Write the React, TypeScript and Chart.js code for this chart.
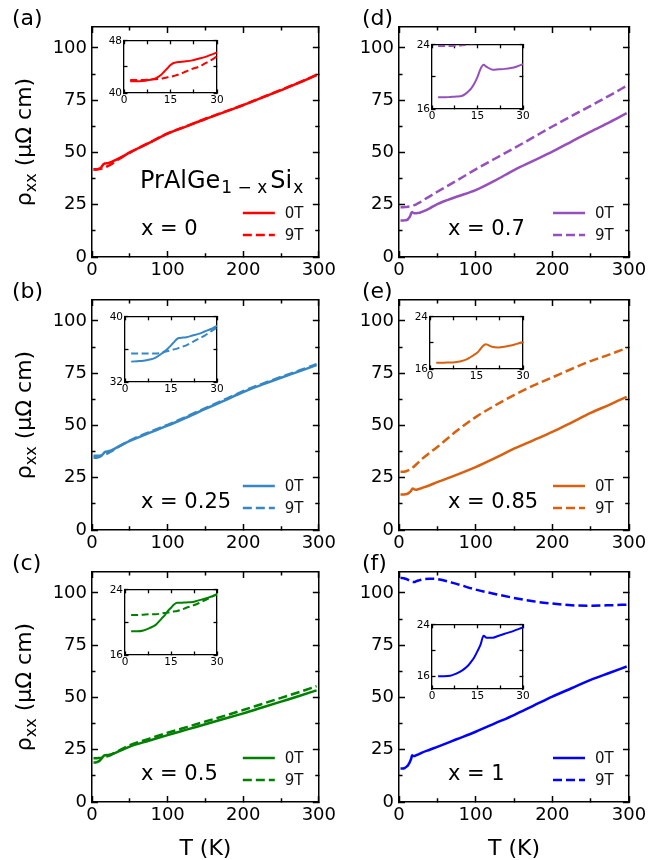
import React, { useEffect, useRef } from "react";
import { Chart, registerables } from "chart.js";
Chart.register(...registerables);

const FONT = "'DejaVu Sans', sans-serif";

// Temperature grid (K), shared by every series
const T_K = [2, 4, 6, 8, 10, 12, 13, 14, 15, 16, 17, 18, 20, 22, 24, 26, 28, 30, 40, 50, 75, 100, 125, 150, 175, 200, 225, 250, 275, 297];

// rho_xx (μΩ cm)
const RHO_A_0T = [41.8, 41.8, 41.85, 42.0, 42.2, 42.8, 43.3, 43.8, 44.3, 44.6, 44.7, 44.75, 44.85, 45.0, 45.25, 45.5, 45.85, 46.2, 48.0, 50.0, 54.5, 59.0, 62.5, 66.0, 69.3, 72.6, 76.2, 79.8, 83.5, 87.0];
const RHO_A_9T = [42.0, 42.0, 42.0, 42.05, 42.1, 42.2, 42.3, 42.4, 42.5, 42.6, 42.75, 42.9, 43.3, 43.7, 44.0, 44.5, 45.0, 45.6, 47.8, 49.9, 54.5, 59.1, 62.6, 66.1, 69.4, 72.7, 76.3, 79.9, 83.6, 87.1];

const RHO_B_0T = [34.5, 34.55, 34.6, 34.75, 35.0, 35.5, 35.8, 36.1, 36.5, 36.9, 37.3, 37.4, 37.5, 37.7, 37.9, 38.2, 38.5, 38.9, 40.8, 42.6, 46.3, 49.9, 53.8, 57.9, 61.9, 66.0, 69.5, 72.8, 76.0, 78.9];
const RHO_B_9T = [35.5, 35.5, 35.5, 35.5, 35.5, 35.6, 35.7, 35.8, 35.9, 36.0, 36.1, 36.25, 36.5, 36.9, 37.3, 37.7, 38.2, 38.7, 40.8, 42.8, 46.7, 50.3, 54.2, 58.3, 62.3, 66.4, 69.9, 73.2, 76.4, 79.3];

const RHO_C_0T = [18.9, 18.9, 19.0, 19.3, 19.7, 20.5, 20.9, 21.4, 21.8, 22.2, 22.4, 22.4, 22.45, 22.5, 22.7, 22.9, 23.15, 23.4, 25.0, 26.5, 29.3, 32.0, 34.6, 37.2, 39.8, 42.4, 45.2, 48.0, 50.8, 53.4];
const RHO_C_9T = [20.9, 20.9, 20.95, 21.0, 21.0, 21.1, 21.15, 21.2, 21.3, 21.35, 21.4, 21.5, 21.8, 22.05, 22.35, 22.7, 23.1, 23.5, 25.4, 27.2, 30.2, 33.1, 35.8, 38.5, 41.2, 44.0, 46.9, 49.8, 52.7, 55.4];

const RHO_D_0T = [17.45, 17.45, 17.5, 17.55, 17.65, 18.2, 18.6, 19.2, 20.0, 21.0, 21.5, 21.25, 20.9, 20.95, 21.0, 21.1, 21.3, 21.6, 23.3, 25.3, 28.8, 32.0, 36.5, 41.6, 46.0, 50.4, 55.2, 60.0, 64.5, 68.8];
const RHO_D_9T = [23.85, 23.85, 23.85, 23.9, 23.95, 24.05, 24.1, 24.15, 24.2, 24.3, 24.4, 24.5, 24.8, 25.1, 25.5, 25.9, 26.3, 26.8, 29.0, 31.2, 36.5, 41.9, 47.0, 52.0, 57.2, 62.4, 67.4, 72.3, 77.3, 81.9];

const RHO_E_0T = [16.95, 16.95, 17.0, 17.05, 17.2, 17.5, 17.8, 18.1, 18.4, 18.9, 19.5, 19.8, 19.4, 19.3, 19.4, 19.6, 19.85, 20.1, 21.4, 22.9, 26.4, 30.1, 34.4, 38.9, 42.9, 46.9, 51.4, 56.0, 60.0, 63.7];
const RHO_E_9T = [27.8, 27.8, 27.85, 28.0, 28.2, 28.5, 28.7, 28.9, 29.1, 29.3, 29.6, 29.9, 30.5, 31.2, 31.9, 32.6, 33.3, 34.0, 36.9, 39.7, 47.3, 54.0, 59.5, 64.5, 69.0, 73.0, 77.0, 80.8, 84.0, 87.0];

const RHO_F_0T = [16.0, 16.0, 16.05, 16.4, 16.9, 17.7, 18.3, 19.0, 19.9, 20.9, 22.3, 22.0, 22.0, 22.3, 22.6, 22.9, 23.25, 23.6, 25.0, 26.4, 30.0, 33.6, 37.6, 41.6, 46.0, 50.4, 54.4, 58.4, 61.8, 64.8];
const RHO_F_9T = [107.2, 107.1, 107.0, 106.8, 106.6, 106.2, 106.0, 105.8, 105.6, 105.4, 105.3, 105.2, 105.2, 105.5, 105.8, 106.0, 106.2, 106.4, 106.8, 106.6, 104.3, 101.6, 99.5, 97.6, 96.0, 94.9, 94.1, 93.9, 94.1, 94.4];

const PANEL_LABELS = ["(a)", "(b)", "(c)", "(d)", "(e)", "(f)"];
const COMPOSITIONS = ["x = 0", "x = 0.25", "x = 0.5", "x = 0.7", "x = 0.85", "x = 1"];
const FIELDS = ["0T", "9T"];
const INSET_Y_RANGES = [[40, 48], [32, 40], [16, 24], [16, 24], [16, 24], [14, 24]];

const PANELS = [
  { zero: RHO_A_0T, nine: RHO_A_9T, color: "#ff0000", col: 0, row: 0, inset: [124, 37, 217, 93], formula: true },
  { zero: RHO_B_0T, nine: RHO_B_9T, color: "#3787c4", col: 0, row: 1, inset: [125, 313, 217, 382] },
  { zero: RHO_C_0T, nine: RHO_C_9T, color: "#008000", col: 0, row: 2, inset: [125, 586, 217, 655] },
  { zero: RHO_D_0T, nine: RHO_D_9T, color: "#9650be", col: 1, row: 0, inset: [432, 41, 523, 109] },
  { zero: RHO_E_0T, nine: RHO_E_9T, color: "#d8600e", col: 1, row: 1, inset: [430, 313, 523, 369] },
  { zero: RHO_F_0T, nine: RHO_F_9T, color: "#0000ff", col: 1, row: 2, inset: [432, 621, 523, 689] },
];

const pts = (xs: number[], ys: number[]) => xs.map((x, i) => ({ x, y: ys[i] }));

// Inward tick marks on all four sides using Chart.js grid tick marks (negative tickLength).
// majorEvery: values that are major ticks; minor ticks are shortened with a dash pattern.
function axis(opts: {
  position: string; min: number; max: number; step: number; labelEvery: number | null;
  fontSize: number; labelGap: number; len: number; minorLen: number | null; lw: number; fit: (s: any) => void;
}) {
  const startsAtBorder = opts.position === "bottom" || opts.position === "right";
  const isMajor = (v: number) => opts.labelEvery == null || Math.abs(v / opts.labelEvery - Math.round(v / opts.labelEvery)) < 1e-6;
  return {
    type: "linear",
    position: opts.position,
    min: opts.min,
    max: opts.max,
    afterFit: opts.fit,
    border: { display: true, color: "#000", width: opts.lw },
    grid: {
      display: true,
      drawOnChartArea: false,
      drawTicks: true,
      tickLength: -opts.len,
      tickWidth: opts.lw,
      tickColor: "#000",
      tickBorderDash: (ctx: any) => {
        if (opts.minorLen == null) return [];
        const v = ctx.tick ? ctx.tick.value : 0;
        if (opts.labelEvery != null && !isMajor(v)) {
          const total = opts.len + opts.lw / 2;
          const on = opts.minorLen + opts.lw / 2;
          return startsAtBorder ? [on, 40] : [0, total - on, 40];
        }
        return [];
      },
    },
    ticks: {
      display: opts.position === "bottom" || opts.position === "left",
      stepSize: opts.step,
      color: "#000",
      font: { family: FONT, size: opts.fontSize },
      padding: opts.labelGap + opts.len,
      maxRotation: 0,
      autoSkip: false,
      includeBounds: false,
      callback: (v: number) => (isMajor(v) ? String(v) : ""),
    },
  };
}

function makeDecor(o: any) {
  return {
    id: "panelDecor",
    afterDraw(chart: any) {
      const { ctx, chartArea: a } = chart;
      ctx.save();
      ctx.fillStyle = "#000";
      ctx.textAlign = "left";
      ctx.textBaseline = "middle";
      ctx.font = `22px ${FONT}`;
      ctx.fillText(o.panel, o.panelX, 19);

      ctx.textBaseline = "alphabetic";
      ctx.font = `21px ${FONT}`;
      ctx.fillText(o.comp, a.left + 49, a.bottom - 22);

      chart.data.datasets.forEach((ds: any, i: number) => {
        const yy = a.bottom - 44 + 22 * i;
        ctx.strokeStyle = ds.borderColor;
        ctx.lineWidth = ds.borderWidth;
        ctx.setLineDash(ds.borderDash || []);
        ctx.beginPath();
        ctx.moveTo(a.right - 76, yy);
        ctx.lineTo(a.right - 44, yy);
        ctx.stroke();
        ctx.setLineDash([]);
        ctx.fillStyle = "#111";
        ctx.font = `15px ${FONT}`;
        ctx.textBaseline = "middle";
        ctx.fillText(ds.label, a.right - 34, yy + 1);
      });

      if (o.formula) {
        const parts: [string, number, number, number][] = [["PrAlGe", 24, 0, 1], ["1 − x", 17, 5, 3], ["Si", 24, 0, 1], ["x", 17, 5, 0]];
        let x = 140;
        ctx.fillStyle = "#000";
        ctx.textBaseline = "alphabetic";
        parts.forEach(([s, sz, dy, gap]) => {
          ctx.font = `${sz}px ${FONT}`;
          ctx.fillText(s, x, 188 + dy);
          x += ctx.measureText(s).width + gap;
        });
      }

      if (o.yTitle) {
        const parts: [string, number, number][] = [["ρ", 22, 0], ["xx", 16, 5], [" (μΩ cm)", 22, 0]];
        ctx.save();
        ctx.translate(31, (a.top + a.bottom) / 2);
        ctx.rotate(-Math.PI / 2);
        let total = 0;
        parts.forEach(([s, sz]) => { ctx.font = `${sz}px ${FONT}`; total += ctx.measureText(s).width; });
        let x = -total / 2;
        ctx.fillStyle = "#000";
        ctx.textBaseline = "alphabetic";
        parts.forEach(([s, sz, dy]) => {
          ctx.font = `${sz}px ${FONT}`;
          ctx.fillText(s, x, dy);
          x += ctx.measureText(s).width;
        });
        ctx.restore();
      }

      if (o.xTitle) {
        ctx.fillStyle = "#000";
        ctx.font = `22px ${FONT}`;
        ctx.textAlign = "center";
        ctx.textBaseline = "alphabetic";
        ctx.fillText(o.xTitle, (a.left + a.right) / 2, 310);
      }
      ctx.restore();
    },
  };
}

function datasets(p: any, width: number, inset: boolean) {
  const extra = inset ? { clip: 0 } : {};
  return [
    { label: FIELDS[0], data: pts(T_K, p.zero), borderColor: p.color, backgroundColor: p.color, borderWidth: width, pointRadius: 0, fill: false, cubicInterpolationMode: "monotone", ...extra },
    { label: FIELDS[1], data: pts(T_K, p.nine), borderColor: p.color, backgroundColor: p.color, borderWidth: width, borderDash: inset ? [7, 3.5] : [9, 4], pointRadius: 0, fill: false, cubicInterpolationMode: "monotone", ...extra },
  ];
}

function mainGeom(p: any) {
  const left = p.col === 0 ? 0 : 307;
  const width = p.col === 0 ? 345 : 356;
  const top = [0, 273, 545][p.row];
  const height = p.row === 2 ? 315 : 300;
  return { left, top, width, height };
}

function mainConfig(p: any, i: number): any {
  const g = mainGeom(p);
  const common = { fontSize: 18, len: 6, minorLen: 3.5, lw: 1.5 };
  return {
    type: "line",
    data: { datasets: datasets(p, 2.5, false) },
    options: {
      responsive: false,
      animation: false,
      devicePixelRatio: 1,
      events: [],
      layout: { padding: { left: 0, top: 27, right: g.width - 322, bottom: 0 } },
      plugins: { legend: { display: false }, tooltip: { enabled: false } },
      scales: {
        x: axis({ ...common, position: "bottom", min: 0, max: 300, step: 50, labelEvery: 100, labelGap: 3, fit: (s: any) => { s.height = g.height - 257; } }),
        x2: axis({ ...common, position: "top", min: 0, max: 300, step: 50, labelEvery: 100, labelGap: 3, fit: (s: any) => { s.height = 0; } }),
        y: axis({ ...common, position: "left", min: 0, max: 110, step: 12.5, labelEvery: 25, labelGap: 5, fit: (s: any) => { s.width = 92; } }),
        y2: axis({ ...common, position: "right", min: 0, max: 110, step: 12.5, labelEvery: 25, labelGap: 5, fit: (s: any) => { s.width = 0; } }),
      },
    },
    plugins: [
      makeDecor({
        panel: PANEL_LABELS[i],
        panelX: p.col === 0 ? 12 : 55,
        comp: COMPOSITIONS[i],
        formula: !!p.formula,
        yTitle: p.col === 0,
        xTitle: p.row === 2 ? "T (K)" : null,
      }),
    ],
  };
}

function insetGeom(p: any) {
  const [L, T, R, B] = p.inset;
  return { left: L - 24, top: T - 8, width: R - L + 36, height: B - T + 24 };
}

const insetBg = {
  id: "insetBg",
  beforeDraw(chart: any) {
    const { ctx, chartArea: a } = chart;
    ctx.save();
    ctx.fillStyle = "#ffffff";
    ctx.fillRect(a.left, a.top, a.right - a.left, a.bottom - a.top);
    ctx.restore();
  },
};

function insetConfig(p: any, i: number): any {
  const [ymin, ymax] = INSET_Y_RANGES[i];
  const common = { fontSize: 10.5, len: 3.5, minorLen: null, lw: 1.3 };
  return {
    type: "line",
    data: { datasets: datasets(p, 2, true) },
    options: {
      responsive: false,
      animation: false,
      devicePixelRatio: 1,
      events: [],
      layout: { padding: { left: 0, top: 8, right: 12, bottom: 0 } },
      plugins: { legend: { display: false }, tooltip: { enabled: false } },
      scales: {
        x: axis({ ...common, position: "bottom", min: 0, max: 30, step: 7.5, labelEvery: 15, labelGap: 1, fit: (s: any) => { s.height = 16; } }),
        x2: axis({ ...common, position: "top", min: 0, max: 30, step: 7.5, labelEvery: 15, labelGap: 1, fit: (s: any) => { s.height = 0; } }),
        y: axis({ ...common, position: "left", min: ymin, max: ymax, step: 4, labelEvery: 8, labelGap: 2, fit: (s: any) => { s.width = 24; } }),
        y2: axis({ ...common, position: "right", min: ymin, max: ymax, step: 4, labelEvery: 8, labelGap: 2, fit: (s: any) => { s.width = 0; } }),
      },
    },
    plugins: [insetBg],
  };
}

function ChartBox({ geom, make }: { geom: any; make: () => any }) {
  const ref = useRef<HTMLCanvasElement>(null);
  useEffect(() => {
    const chart = new Chart(ref.current as HTMLCanvasElement, make());
    return () => chart.destroy();
  }, []);
  return (
    <canvas
      ref={ref}
      width={geom.width}
      height={geom.height}
      style={{ position: "absolute", left: geom.left, top: geom.top, width: geom.width, height: geom.height }}
    />
  );
}

export default function App() {
  return (
    <div style={{ position: "absolute", left: 0, top: 0, width: 663, height: 860, background: "#fff", overflow: "hidden" }}>
      {PANELS.map((p, i) => (
        <ChartBox key={"m" + i} geom={mainGeom(p)} make={() => mainConfig(p, i)} />
      ))}
      {PANELS.map((p, i) => (
        <ChartBox key={"i" + i} geom={insetGeom(p)} make={() => insetConfig(p, i)} />
      ))}
    </div>
  );
}
